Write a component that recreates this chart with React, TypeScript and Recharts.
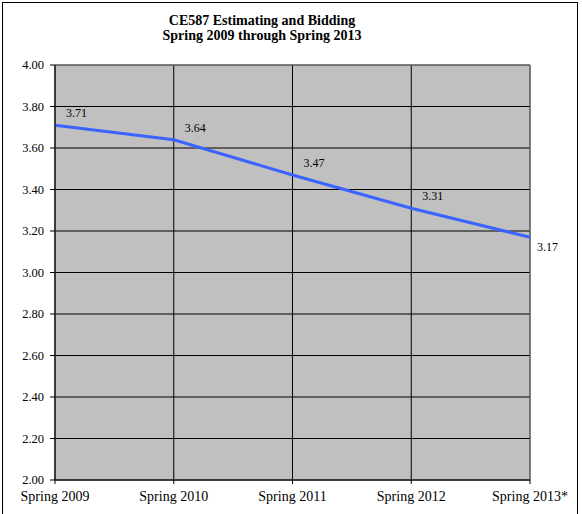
import { LineChart, Line, XAxis, YAxis, CartesianGrid, LabelList, ReferenceArea } from 'recharts';

const terms = ['Spring 2009', 'Spring 2010', 'Spring 2011', 'Spring 2012', 'Spring 2013*'];
const gpa = [3.71, 3.64, 3.47, 3.31, 3.17];
const yTicks = [2.0, 2.2, 2.4, 2.6, 2.8, 3.0, 3.2, 3.4, 3.6, 3.8, 4.0];

const data = terms.map((t, i) => ({ term: t, gpa: gpa[i] }));

const serif = '"Liberation Serif", "Times New Roman", serif';

// excel-ish labels: up-right of the point, last one goes to the right
const renderLabel = (props: any) => {
  const { x, y, value, index } = props;
  const last = index === gpa.length - 1;
  return (
    <text
      x={last ? x + 7 : x + 11}
      y={last ? y + 10 : y - 12}
      dy="0.35em"
      fontFamily={serif}
      fontSize={12}
      fill="#000"
    >
      {Number(value).toFixed(2)}
    </text>
  );
};

export default function App() {
  return (
    <div style={{ position: 'absolute', left: 0, top: 0, width: 582, height: 514, background: '#fff' }}>
      <div
        style={{
          position: 'absolute', left: 2, top: 2, width: 576, height: 512,
          border: '1px solid #000', borderBottom: 'none', boxSizing: 'border-box',
        }}
      />
      <div
        style={{
          position: 'absolute', left: 112, width: 300, top: 13, textAlign: 'center',
          fontFamily: serif, fontWeight: 'bold', fontSize: 14, lineHeight: '15px', color: '#000',
          whiteSpace: 'nowrap',
        }}
      >
        CE587 Estimating and Bidding
        <br />
        Spring 2009 through Spring 2013
      </div>
      <LineChart width={582} height={514} data={data} margin={{ top: 65, right: 52, bottom: 12, left: 0 }}>
        <CartesianGrid fill="#c0c0c0" stroke="#000" strokeOpacity={1} />
        <ReferenceArea x1="Spring 2009" x2="Spring 2013*" y1={2} y2={4} fill="none" stroke="#808080" strokeWidth={1} />
        <XAxis
          dataKey="term"
          axisLine={{ stroke: '#000' }}
          tickLine={{ stroke: '#000' }}
          tickSize={4}
          tickMargin={7}
          height={22}
          interval={0}
          tick={{ fontFamily: serif, fontSize: 14, fill: '#000' }}
        />
        <YAxis
          domain={[2, 4]}
          ticks={yTicks}
          width={55}
          axisLine={{ stroke: '#000' }}
          tickLine={{ stroke: '#000' }}
          tickSize={5}
          tickMargin={6}
          tickFormatter={(v: number) => v.toFixed(2)}
          tick={{ fontFamily: serif, fontSize: 12.5, fill: '#000' }}
        />
        <Line type="linear" dataKey="gpa" stroke="#3a63ff" strokeWidth={3} dot={false} isAnimationActive={false}>
          <LabelList dataKey="gpa" content={renderLabel} />
        </Line>
      </LineChart>
    </div>
  );
}
